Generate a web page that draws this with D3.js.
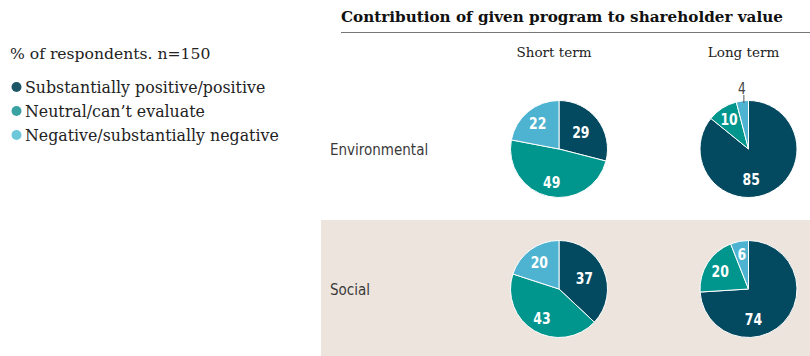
<!DOCTYPE html>
<html>
<head>
<meta charset="utf-8">
<script src="https://cdn.jsdelivr.net/npm/d3@7"></script>
<style>
  html, body { margin: 0; padding: 0; background: #ffffff; }
  svg { display: block; }
</style>
</head>
<body>
<svg id="chart" width="810" height="356"></svg>
<script>
// Survey answers, % of respondents (n=150)
const categories = ["Substantially positive/positive", "Neutral/can\u2019t evaluate", "Negative/substantially negative"];
const programs = ["Environmental", "Social"];
const horizons = ["Short term", "Long term"];
const environmentalShort = [29, 49, 22];
const environmentalLong = [85, 10, 4];
const socialShort = [37, 43, 20];
const socialLong = [74, 20, 6];

const sliceColors = ["#03495f", "#00958d", "#4eb3d0"];
const legendColors = ["#1c5565", "#3aa3a2", "#6cc8d9"];

const values = {
  "Environmental": [environmentalShort, environmentalLong],
  "Social": [socialShort, socialLong]
};

const svg = d3.select("#chart");
const serif = "'DejaVu Serif', 'Liberation Serif', serif";
const condensed = "'DejaVu Sans Condensed', 'Liberation Sans Narrow', 'DejaVu Sans', sans-serif";

// Shaded band behind the second row
svg.append("rect")
  .attr("x", 321).attr("y", 220)
  .attr("width", 489).attr("height", 136)
  .attr("fill", "#ede5dd");

// Title and rule
svg.append("text")
  .attr("x", 341).attr("y", 22)
  .attr("font-family", serif)
  .attr("font-weight", "bold")
  .attr("font-size", 15.2)
  .attr("fill", "#111")
  .text("Contribution of given program to shareholder value");

svg.append("line")
  .attr("x1", 341).attr("x2", 810)
  .attr("y1", 32.5).attr("y2", 32.5)
  .attr("stroke", "#777").attr("stroke-width", 1);

// Legend
svg.append("text")
  .attr("x", 10).attr("y", 59)
  .attr("font-family", serif)
  .attr("font-size", 15.6)
  .attr("fill", "#222")
  .text("% of respondents. n=150");

const legend = svg.append("g").selectAll("g")
  .data(categories)
  .join("g")
  .attr("transform", (d, i) => `translate(0,${87 + i * 24})`);

legend.append("circle")
  .attr("cx", 16.5).attr("cy", 0).attr("r", 5)
  .attr("fill", (d, i) => legendColors[i]);

legend.append("text")
  .attr("x", 25).attr("y", 6)
  .attr("font-family", serif)
  .attr("font-size", 15.8)
  .attr("fill", "#222")
  .text(d => d);

// Layout scales for the grid of pies
const xCol = d3.scaleOrdinal().domain(horizons).range([559, 748.5]);
const yRow = d3.scaleOrdinal().domain(programs).range([149, 289]);

svg.append("g").selectAll("text")
  .data(horizons)
  .join("text")
  .attr("x", d => xCol(d) - 5)
  .attr("y", 57)
  .attr("text-anchor", "middle")
  .attr("font-family", serif)
  .attr("font-size", 13.5)
  .attr("fill", "#222")
  .text(d => d);

svg.append("g").selectAll("text")
  .data(programs)
  .join("text")
  .attr("x", 330)
  .attr("y", d => yRow(d) + 6)
  .attr("font-family", condensed)
  .attr("font-size", 15)
  .attr("fill", "#3a3a3a")
  .text(d => d);

const radius = 48.5;
const pie = d3.pie().sort(null).value(d => d);
const arc = d3.arc().innerRadius(0).outerRadius(radius);

// Where a slice's value label sits: [angle, fraction of radius]
function labelPlacement(a, i) {
  const mid = (a.startAngle + a.endAngle) / 2;
  if (a.data >= 60) return [mid + (Math.PI - mid) * 0.8, 0.62];
  if (a.data <= 10) return [mid, 0.74];
  if (i === 0) return [mid, 0.57];
  return [mid, 0.69];
}

programs.forEach(p => {
  horizons.forEach((h, hi) => {
    const data = values[p][hi];
    const g = svg.append("g")
      .attr("transform", `translate(${xCol(h)},${yRow(p)})`);
    const arcs = pie(data);

    g.selectAll("path")
      .data(arcs)
      .join("path")
      .attr("d", arc)
      .attr("fill", (d, i) => sliceColors[i])
      .attr("stroke", "#ffffff")
      .attr("stroke-width", 1)
      .attr("stroke-linejoin", "round");

    arcs.forEach((a, i) => {
      if (a.data < 5) {
        // Tiny slice: value sits above the pie with a short leader
        const mid = (a.startAngle + a.endAngle) / 2;
        const sx = Math.sin(mid) * radius + 1.5;
        const sy = -Math.cos(mid) * radius;
        g.append("line")
          .attr("x1", sx).attr("y1", sy + 2)
          .attr("x2", sx).attr("y2", sy - 6)
          .attr("stroke", "#555").attr("stroke-width", 1);
        g.append("text")
          .attr("transform", `translate(${sx - 2},${sy - 7}) scale(0.9,1)`)
          .attr("text-anchor", "middle")
          .attr("font-family", condensed)
          .attr("font-size", 15)
          .attr("fill", "#444")
          .text(a.data);
      } else {
        const [ang, f] = labelPlacement(a, i);
        const lx = Math.sin(ang) * radius * f;
        const ly = -Math.cos(ang) * radius * f;
        // narrowed digits for a condensed look
        g.append("text")
          .attr("transform", `translate(${lx},${ly}) scale(0.84,1)`)
          .attr("dy", "0.36em")
          .attr("text-anchor", "middle")
          .attr("font-family", condensed)
          .attr("font-weight", "bold")
          .attr("font-size", 16.5)
          .attr("fill", "#ffffff")
          .text(a.data);
      }
    });
  });
});
</script>
</body>
</html>
